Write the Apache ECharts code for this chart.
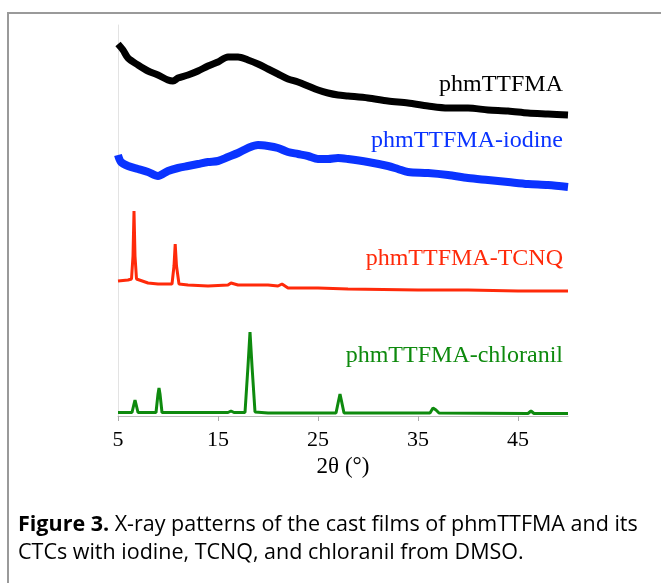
<!DOCTYPE html>
<html>
<head>
<meta charset="utf-8">
<script src="https://cdn.jsdelivr.net/npm/echarts@6/dist/echarts.min.js"></script>
<style>
	html, body { margin: 0; padding: 0; background: #fff; }
	#chart { width: 661px; height: 583px; }
</style>
</head>
<body>
<div id="chart"></div>
<script>
// 2θ (deg) / offset intensity
var blackData = [
	[5, 372], [5.5, 366], [6, 358], [7, 351], [8, 345], [9, 341], [10, 336], [10.5, 335],
	[11, 338], [12, 341], [13, 345], [14, 350], [15, 354], [16, 359], [17, 359], [18, 356],
	[19, 352], [20, 347], [21, 342], [22, 337], [23, 334], [24, 330], [25, 326], [26, 323],
	[27, 321], [28, 320], [30, 318], [32, 315], [34, 313], [36, 310], [38, 308], [40, 308],
	[42, 306], [44, 305], [46, 303], [48, 302], [50, 301]
];
var blueData = [
	[5, 261], [5.3, 254], [6, 250], [7, 247], [8, 244], [9, 240], [10, 245], [11, 248],
	[12, 250], [13, 252], [14, 254], [15, 255], [16, 259], [17, 263], [18, 268], [19, 271],
	[20, 270], [21, 268], [22, 264], [23, 262], [24, 260], [25, 257], [26, 257], [27, 258],
	[28, 257], [30, 254], [32, 250], [33, 247], [34, 244], [36, 243], [38, 241], [40, 238],
	[42, 236], [44, 234], [46, 232], [48, 231], [50, 229]
];
var redData = [
	[5, 135], [6, 136], [6.35, 137], [6.5, 160], [6.6, 205], [6.7, 160], [6.85, 137], [7, 135],
	[8, 133], [9, 132], [10.4, 132], [10.6, 150], [10.72, 172], [10.85, 150], [11.1, 132],
	[12, 131], [14, 130], [16, 131], [16.3, 133], [17, 131], [18, 131], [20, 131], [21, 130],
	[21.4, 132], [22, 128], [25, 128], [28, 127], [35, 126], [40, 126], [45, 125], [50, 125]
];
var greenData = [
	[5, 3.5], [6.4, 3.5], [6.6, 12], [6.7, 16], [6.8, 12], [7, 3.5], [8.8, 3.5], [9, 22],
	[9.1, 28], [9.2, 22], [9.4, 3.5], [16, 3.5], [16.3, 5], [16.6, 3.5], [17.7, 3.5], [18, 50],
	[18.2, 84], [18.4, 50], [18.7, 4], [20, 3], [26.8, 3], [27.05, 15], [27.2, 22], [27.35, 15],
	[27.6, 3], [36.2, 3], [36.5, 8], [36.6, 10], [36.8, 6], [37.1, 3], [46, 2.5], [46.3, 5],
	[46.6, 2.5], [50, 2.5]
];
var xTicks = [5, 15, 25, 35, 45];
var seriesNames = ['phmTTFMA', 'phmTTFMA-iodine', 'phmTTFMA-TCNQ', 'phmTTFMA-chloranil'];

var myChart = echarts.init(document.getElementById('chart'));
var serif = '"Liberation Serif", "Times New Roman", serif';

var option = {
	animation: false,
	grid: {
		left: 118,
		right: 93,
		top: 25,
		bottom: 167
	},
	xAxis: {
		type: 'value',
		min: 5,
		max: 50,
		name: '2θ (°)',
		nameLocation: 'middle',
		nameGap: 38,
		nameTextStyle: {
			color: '#000',
			fontFamily: serif,
			fontSize: 23
		},
		axisLine: {
			lineStyle: { color: '#bbb', width: 1 }
		},
		axisTick: {
			show: true,
			length: 5,
			customValues: xTicks,
			lineStyle: { color: '#aaa' }
		},
		axisLabel: {
			customValues: xTicks,
			margin: 13,
			color: '#000',
			fontFamily: serif,
			fontSize: 22
		},
		splitLine: { show: false }
	},
	yAxis: {
		type: 'value',
		min: 0,
		max: 391,
		axisLine: {
			show: true,
			lineStyle: { color: '#e3e3e3' }
		},
		axisTick: { show: false },
		axisLabel: { show: false },
		splitLine: { show: false }
	},
	series: [{
		name: seriesNames[0],
		type: 'line',
		data: blackData,
		showSymbol: false,
		smooth: 0.3,
		lineStyle: { color: '#000', width: 7 }
	}, {
		name: seriesNames[1],
		type: 'line',
		data: blueData,
		showSymbol: false,
		smooth: 0.3,
		lineStyle: { color: '#0a33ff', width: 8 }
	}, {
		name: seriesNames[2],
		type: 'line',
		data: redData,
		showSymbol: false,
		lineStyle: { color: '#ff2a0a', width: 3 }
	}, {
		name: seriesNames[3],
		type: 'line',
		data: greenData,
		showSymbol: false,
		lineStyle: { color: '#0e8a0e', width: 3 }
	}],
	graphic: [{
		// outer frame
		type: 'rect',
		shape: { x: 8, y: 13, width: 700, height: 620 },
		style: { fill: 'none', stroke: '#9a9a9a', lineWidth: 2 }
	}, {
		type: 'text',
		right: 98,
		top: 73,
		style: { text: seriesNames[0], fill: '#000', font: '24px ' + serif }
	}, {
		type: 'text',
		right: 98,
		top: 129,
		style: { text: seriesNames[1], fill: '#0a33ff', font: '24px ' + serif }
	}, {
		type: 'text',
		right: 98,
		top: 247,
		style: { text: seriesNames[2], fill: '#ff2a0a', font: '24px ' + serif }
	}, {
		type: 'text',
		right: 98,
		top: 344,
		style: { text: seriesNames[3], fill: '#0e8a0e', font: '24px ' + serif }
	}, {
		type: 'text',
		left: 18,
		top: 511,
		style: {
			text: '{b|Figure 3.} X-ray patterns of the cast films of phmTTFMA and its\nCTCs with iodine, TCNQ, and chloranil from DMSO.',
			fill: '#000',
			font: '21.5px "Open Sans"',
			lineHeight: 28,
			rich: {
				b: { fontWeight: 'bold', fontFamily: 'Open Sans', fontSize: 21.5 }
			}
		}
	}]
};

myChart.setOption(option);
window.addEventListener('resize', function() {
	myChart.resize();
});
</script>
</body>
</html>
